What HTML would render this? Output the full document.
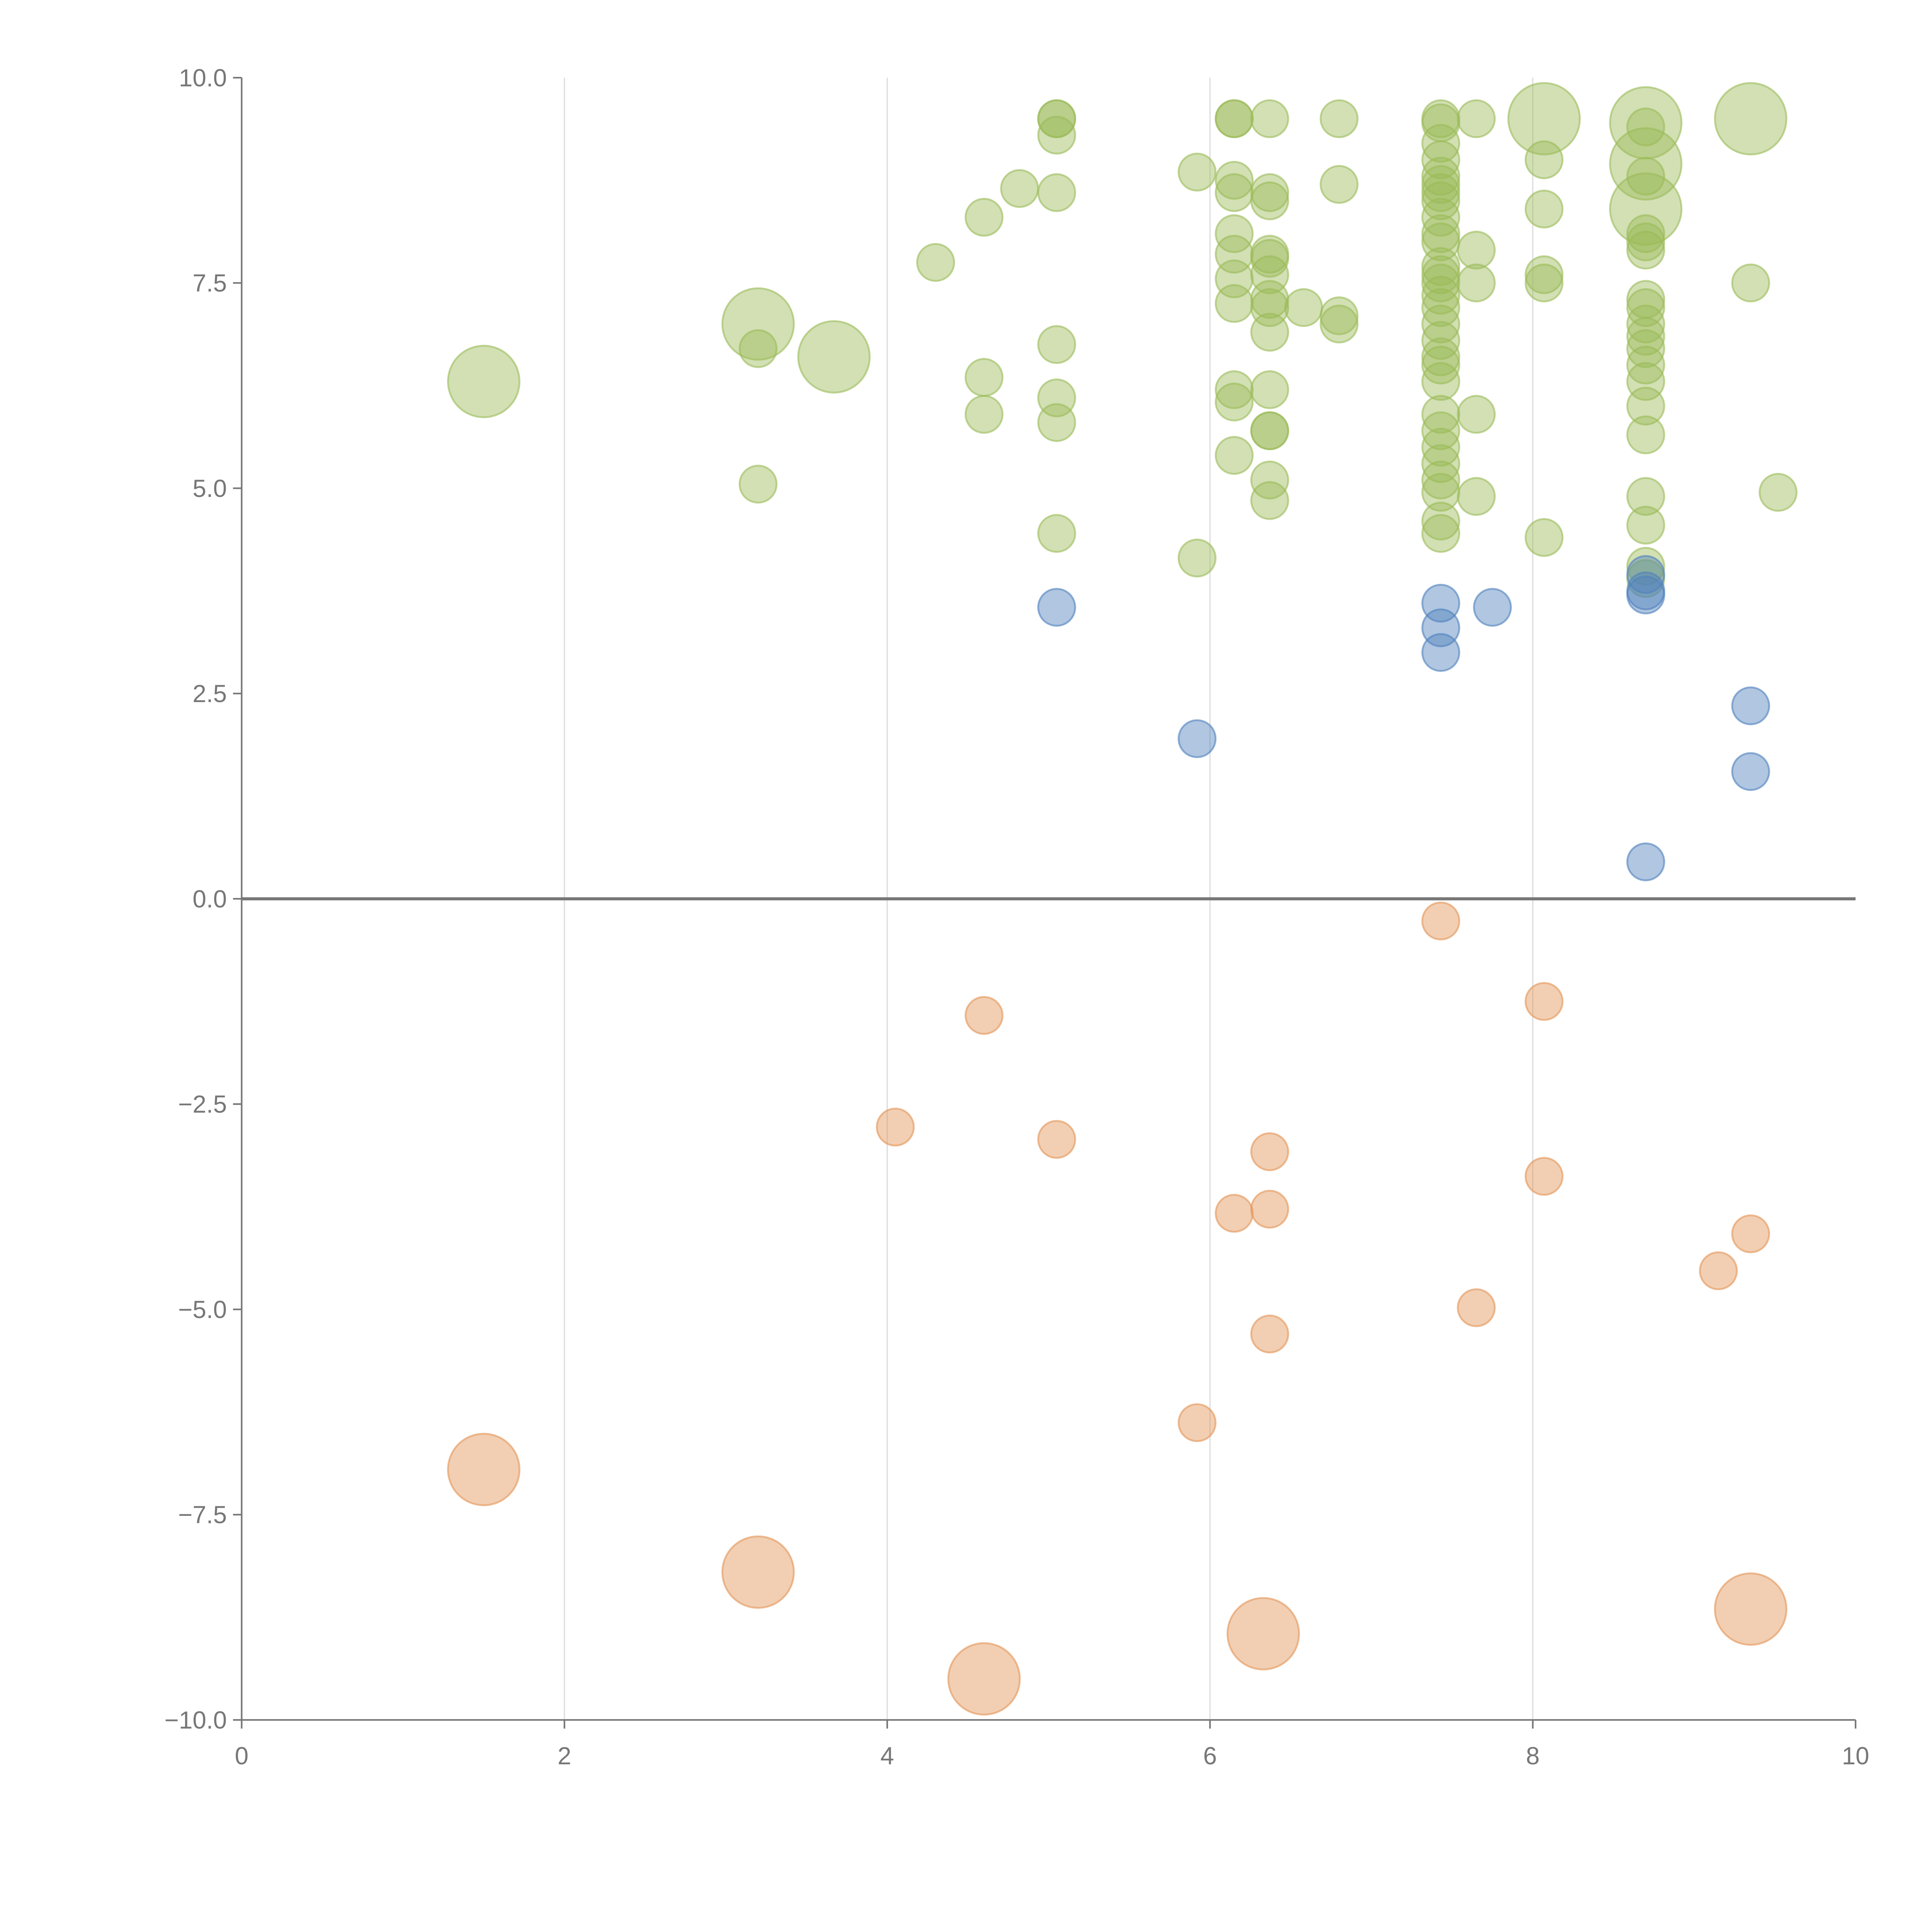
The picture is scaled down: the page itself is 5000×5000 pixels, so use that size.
<!DOCTYPE html>
<html><head><meta charset="utf-8"><style>html,body{margin:0;padding:0;background:#fff}svg{display:block}</style></head>
<body>
<svg id="chart" width="5000" height="5000" viewBox="0 0 1567 1567" xmlns="http://www.w3.org/2000/svg" font-family="Liberation Sans, sans-serif">
<g id="grid"></g>
<g id="marks"></g>
<g id="axes"></g>
</svg>
<script>
const xTicks=[0,2,4,6,8,10];
const yTicks=[-10,-7.5,-5,-2.5,0,2.5,5,7.5,10];
const yTickLabels=["\u221210.0","\u22127.5","\u22125.0","\u22122.5","0.0","2.5","5.0","7.5","10.0"];
const greenLarge=[[1.5,6.3],[3.2,7.0],[3.67,6.6],[8.07,9.5],[8.7,9.45],[8.7,8.95],[8.7,8.4],[9.35,9.5]];
const greenSmall=[[3.2,6.7],[3.2,5.05],[4.3,7.75],[4.6,8.3],[4.6,6.35],[4.6,5.9],[4.82,8.65],
[5.05,9.5],[5.05,9.5],[5.05,9.3],[5.05,8.6],[5.05,6.75],[5.05,6.1],[5.05,5.8],[5.05,4.45],[5.92,8.85],[5.92,4.15],
[6.15,9.5],[6.15,9.5],[6.15,8.75],[6.15,8.6],[6.15,8.1],[6.15,7.85],[6.15,7.55],[6.15,7.25],[6.15,6.2],[6.15,6.05],[6.15,5.4],
[6.37,9.5],[6.37,8.6],[6.37,8.5],[6.37,7.85],[6.37,7.8],[6.37,7.6],[6.37,7.3],[6.37,7.2],[6.37,6.9],[6.37,6.2],[6.37,5.7],[6.37,5.7],[6.37,5.1],[6.37,4.85],
[6.58,7.2],[6.8,9.5],[6.8,8.7],[6.8,7.1],[6.8,7.0],
[7.43,9.5],[7.43,9.45],[7.43,9.2],[7.43,9.0],[7.43,8.8],[7.43,8.7],[7.43,8.6],[7.43,8.5],[7.43,8.3],[7.43,8.1],[7.43,8.0],[7.43,7.7],[7.43,7.6],[7.43,7.5],[7.43,7.35],[7.43,7.2],[7.43,7.0],[7.43,6.8],[7.43,6.6],[7.43,6.5],[7.43,6.3],[7.43,5.9],[7.43,5.7],[7.43,5.5],[7.43,5.3],[7.43,5.1],[7.43,4.95],[7.43,4.6],[7.43,4.45],
[7.65,9.5],[7.65,7.9],[7.65,7.5],[7.65,5.9],[7.65,4.9],[8.07,9.0],[8.07,8.4],[8.07,7.6],[8.07,7.5],[8.07,4.4],
[8.7,9.4],[8.7,8.8],[8.7,8.1],[8.7,8.0],[8.7,7.9],[8.7,7.3],[8.7,7.2],[8.7,7.0],[8.7,6.85],[8.7,6.7],[8.7,6.5],[8.7,6.3],[8.7,6.0],[8.7,5.65],[8.7,4.9],[8.7,4.55],[8.7,4.05],[8.7,3.9],
[9.35,7.5],[9.52,4.95]];
const blueSmall=[[5.05,3.55],[5.92,1.95],[7.43,3.6],[7.43,3.3],[7.43,3.0],[7.75,3.55],[8.7,3.95],[8.7,3.75],[8.7,3.7],[9.35,2.35],[9.35,1.55],[8.7,0.45]];
const orangeSmall=[[7.43,-0.27],[4.6,-1.42],[8.07,-1.25],[4.05,-2.78],[5.05,-2.93],[6.37,-3.08],[8.07,-3.38],[6.15,-3.83],[6.37,-3.78],[9.35,-4.08],[9.15,-4.53],[7.65,-4.98],[6.37,-5.3],[5.92,-6.38]];
const orangeLarge=[[1.5,-6.95],[3.2,-8.2],[4.6,-9.5],[6.33,-8.95],[9.35,-8.65]];

const NS="http://www.w3.org/2000/svg";
const X0=196,X1=1505,Y0=1395,Y1=63;
function sx(v){return X0+(v-0)/10*(X1-X0);}
function sy(v){return Y0-(v+10)/20*(Y0-Y1);}
function mk(tag,attrs,parent){const e=document.createElementNS(NS,tag);for(const k in attrs)e.setAttribute(k,attrs[k]);parent.appendChild(e);return e;}
const grid=document.getElementById('grid'),marks=document.getElementById('marks'),axes=document.getElementById('axes');
xTicks.forEach(t=>{if(t>0&&t<10){const l=mk('line',{x1:sx(t),x2:sx(t),y1:Y1,y2:Y0,stroke:'#ddd','stroke-width':1},grid);

}});
function draw(arr,r,fill,stroke,name){arr.forEach(p=>{const c=mk('circle',{cx:sx(p[0]),cy:sy(p[1]),r:r,fill:fill,'fill-opacity':0.45,stroke:stroke,'stroke-opacity':0.6,'stroke-width':1.5},marks);

});}
draw(greenSmall,15,'#9bbb59','#9bbb59','green-bubble');
draw(greenLarge,29,'#9bbb59','#9bbb59','green-large-bubble');
draw(blueSmall,15,'#4f81bd','#4f81bd','blue-bubble');
draw(orangeSmall,15,'#e39556','#e39556','orange-bubble');
draw(orangeLarge,29,'#e39556','#e39556','orange-large-bubble');
const z=mk('line',{x1:X0,x2:X1,y1:sy(0),y2:sy(0),stroke:'#777','stroke-width':2.5},axes);


const ya=mk('line',{x1:X0,x2:X0,y1:Y1,y2:Y0,stroke:'#777','stroke-width':1.3},axes);


const xa=mk('line',{x1:X0,x2:X1,y1:Y0,y2:Y0,stroke:'#777','stroke-width':1.3},axes);


yTicks.forEach((t,i)=>{mk('line',{x1:X0-7,x2:X0,y1:sy(t),y2:sy(t),stroke:'#777','stroke-width':1.3},axes);
const tx=mk('text',{x:X0-12,y:sy(t)+7,'text-anchor':'end','font-size':20,fill:'#777'},axes);tx.textContent=yTickLabels[i];

});
xTicks.forEach(t=>{mk('line',{x1:sx(t),x2:sx(t),y1:Y0,y2:Y0+7,stroke:'#777','stroke-width':1.3},axes);
const tx=mk('text',{x:sx(t),y:Y0+36,'text-anchor':'middle','font-size':20,fill:'#777'},axes);tx.textContent=String(t);

});
</script>
</body></html>
